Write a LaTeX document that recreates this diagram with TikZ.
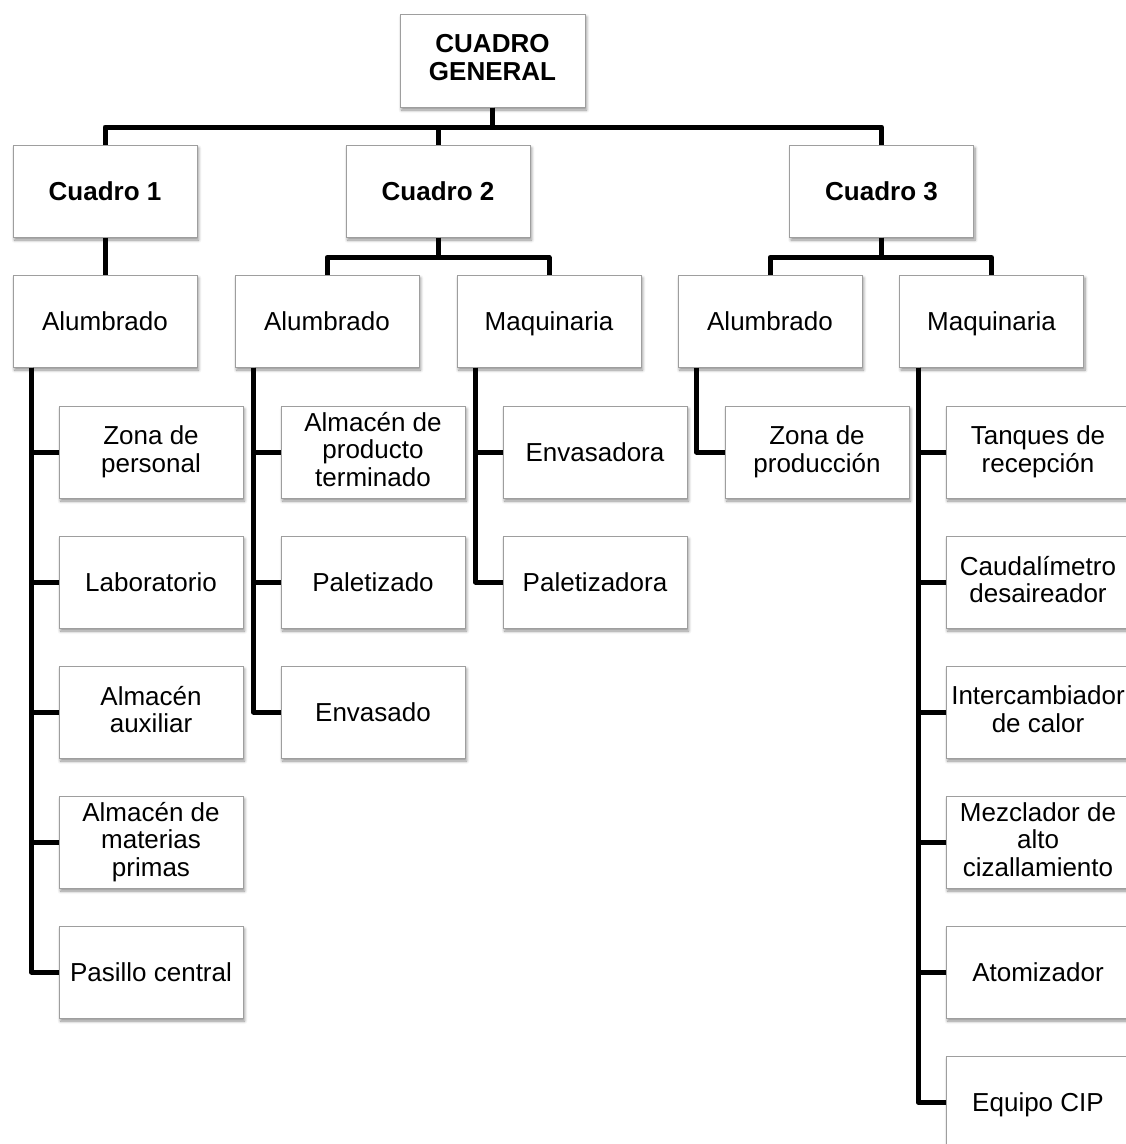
\documentclass[tikz,border=0pt]{standalone}
\usepackage{fontspec}
\setmainfont{Liberation Sans}
\usetikzlibrary{shadows.blur}
\newcommand\boxstrut{\vrule width 0pt height 23.5pt depth 5.5pt\relax}
\tikzset{
  box/.style={draw=black!38, line width=1pt, fill=white, minimum width=184pt, minimum height=92pt,
    inner sep=2pt, align=center, font=\fontsize{26}{27.5}\selectfont,
    execute at begin node=\boxstrut, execute at end node=\boxstrut,
    blur shadow={shadow xshift=1.5pt, shadow yshift=-3pt, shadow blur steps=6, shadow opacity=45, shadow blur radius=3pt}},
  bbox/.style={box, font=\fontsize{26}{28}\selectfont\bfseries},
  conn/.style={line width=5pt, black, line join=round, line cap=butt},
}
\begin{document}
\begin{tikzpicture}[x=1pt,y=-1pt]
\useasboundingbox (0,0) rectangle (1126,1144);
\clip (0,0) rectangle (1126,1144);
% level 0-1
\node[bbox, minimum width=185pt, minimum height=93pt] (cg) at (492.5,60.5) {CUADRO\\GENERAL};
\node[bbox] (c1) at (105,191) {Cuadro 1};
\node[bbox] (c2) at (438,191) {Cuadro 2};
\node[bbox] (c3) at (881.5,191) {Cuadro 3};
% level 2
\node[box] (a1) at (105,321) {Alumbrado};
\node[box] (a2) at (327,321) {Alumbrado};
\node[box] (m2) at (549,321) {Maquinaria};
\node[box] (a3) at (770,321) {Alumbrado};
\node[box] (m3) at (991.5,321) {Maquinaria};
% leaves Cuadro 1
\node[box] (l11) at (151,452) {Zona de\\personal};
\node[box] (l12) at (151,582) {Laboratorio};
\node[box] (l13) at (151,712) {Almacén\\auxiliar};
\node[box] (l14) at (151,842) {Almacén de\\materias\\primas};
\node[box] (l15) at (151,972) {Pasillo central};
% leaves Cuadro 2 Alumbrado
\node[box] (l21) at (373,452) {Almacén de\\producto\\terminado};
\node[box] (l22) at (373,582) {Paletizado};
\node[box] (l23) at (373,712) {Envasado};
% leaves Cuadro 2 Maquinaria
\node[box] (l31) at (595,452) {Envasadora};
\node[box] (l32) at (595,582) {Paletizadora};
% leaf Cuadro 3 Alumbrado
\node[box] (l41) at (817,452) {Zona de\\producción};
% leaves Cuadro 3 Maquinaria
\node[box] (l51) at (1038,452) {Tanques de\\recepción};
\node[box] (l52) at (1038,582) {Caudalímetro\\desaireador};
\node[box] (l53) at (1038,712) {Intercambiador\\de calor};
\node[box] (l54) at (1038,842) {Mezclador de\\alto\\cizallamiento};
\node[box] (l55) at (1038,972) {Atomizador};
\node[box] (l56) at (1038,1102) {Equipo CIP};
% connectors top
\foreach \t in {c1,c2,c3} \draw[conn] (cg.south) -- ++(0,19.5) -| (\t.north);
\foreach \t in {a2,m2} \draw[conn] (c2.south) -- ++(0,20) -| (\t.north);
\foreach \t in {a3,m3} \draw[conn] (c3.south) -- ++(0,20) -| (\t.north);
\draw[conn] (c1.south) -- (a1.north);
% leaf connectors
\foreach \t in {l11,l12,l13,l14,l15} \draw[conn] ([xshift=19pt]a1.south west) |- (\t.west);
\foreach \t in {l21,l22,l23} \draw[conn] ([xshift=19pt]a2.south west) |- (\t.west);
\foreach \t in {l31,l32} \draw[conn] ([xshift=19pt]m2.south west) |- (\t.west);
\draw[conn] ([xshift=19pt]a3.south west) |- (l41.west);
\foreach \t in {l51,l52,l53,l54,l55,l56} \draw[conn] ([xshift=19pt]m3.south west) |- (\t.west);
\end{tikzpicture}
\end{document}
